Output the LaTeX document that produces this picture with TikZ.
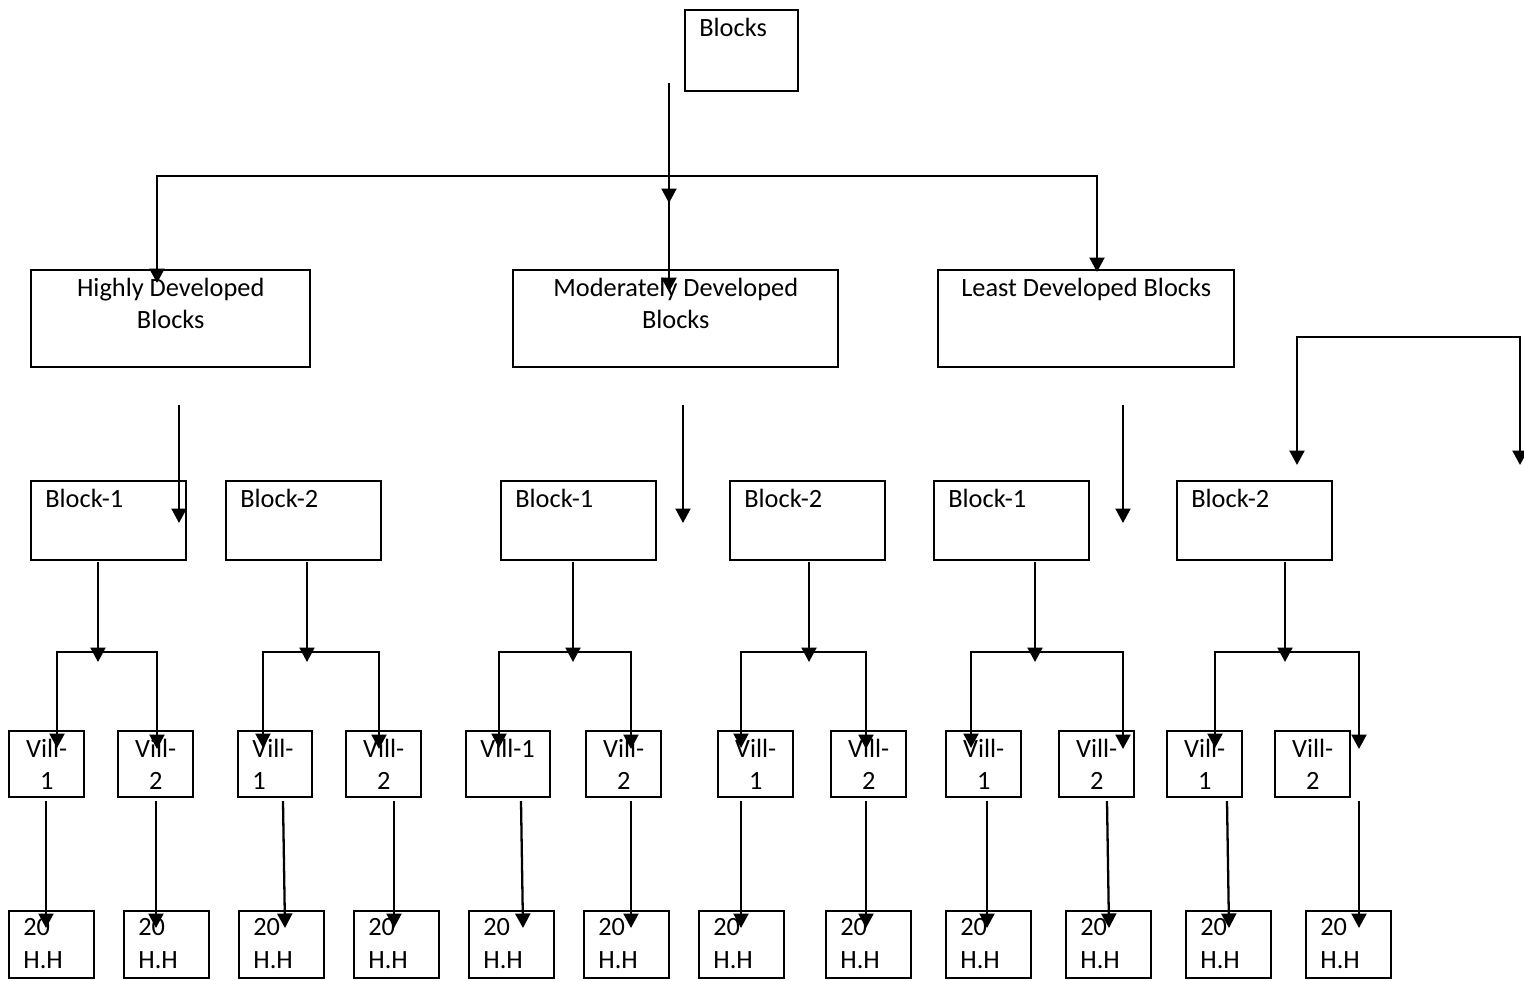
\documentclass[tikz,border=0pt]{standalone}
\usepackage{fontspec}
\setmainfont{Carlito}
\usetikzlibrary{arrows.meta}
\tikzset{
	box/.style 2 args={draw,line width=1.4pt,anchor=north west,inner sep=0pt,minimum width=#1*0.02cm,minimum height=#2*0.02cm},
	txt/.style={font=\fontsize{15}{18.5}\selectfont,inner sep=0pt},
	tl/.style={label={[txt,align=left,anchor=north west,xshift=0.3cm,yshift=-0.17cm]north west:#1}},
	tc/.style={label={[txt,align=center,anchor=north,yshift=-0.17cm]north:#1}},
	arr/.style={line width=1.3pt,-{Triangle[length=0.29cm,width=0.3cm]}},
	twoarr/.style={line width=1.3pt,{Triangle[length=0.29cm,width=0.3cm]}-{Triangle[length=0.29cm,width=0.3cm]}}
}
\begin{document}
\begin{tikzpicture}[x=0.02cm,y=-0.02cm]
	\useasboundingbox (0,0) rectangle (1524,980);
	\node[box={113}{81},tl=Blocks] (top) at (684,9) {};
	\node[box={279}{97},tc={Highly Developed\\Blocks}] (hd) at (30,269) {};
	\node[box={325}{97},tc={Moderately Developed\\Blocks}] (md) at (512,269) {};
	\node[box={296}{97},tc={Least Developed Blocks}] (ld) at (937,269) {};

	\coordinate (t1) at (669,83);
	\coordinate (t2) at (669,203);
	\coordinate (t3) at (669,118);
	\coordinate (t4) at (669,292);
	\coordinate (hj) at (669,176);
	\coordinate (hdt) at (157,283);
	\coordinate (ldt) at (1097,272);
	\draw[arr] (t1) -- (t2);
	\draw[arr] (t3) -- (t4);
	\draw[twoarr] (hdt) |- (hj) -| (ldt);

	\foreach \n/\x/\t in {b1/30/Block-1,b2/225/Block-2,b3/500/Block-1,b4/729/Block-2,b5/933/Block-1,b6/1176/Block-2}{
		\node[box={155}{79},tl=\t] (\n) at (\x,480) {};
	}
	\foreach \i/\x in {1/179,2/683,3/1123}{
		\coordinate (f\i) at (\x,405);
		\coordinate (g\i) at (\x,523);
		\draw[arr] (f\i) -- (g\i);
	}
	\coordinate (rj) at (1400,337);
	\coordinate (rl) at (1297,465);
	\coordinate (rr) at (1520,465);
	\draw[twoarr] (rl) |- (rj) -| (rr);

	\foreach \i/\c/\l/\r in {1/98/57/157,2/307/263/379,3/573/499/631,4/809/741/866,5/1035/971/1123,6/1285/1215/1359}{
		\coordinate (s\i) at (\c,562);
		\coordinate (e\i) at (\c,662);
		\coordinate (k\i) at (\c,652);
		\coordinate (vl\i) at (\l,748);
		\coordinate (vr\i) at (\r,749);
		\draw[arr] (s\i) -- (e\i);
		\draw[twoarr] (vl\i) |- (k\i) -| (vr\i);
	}

	\foreach \i/\x/\t in {1/8/1,2/117/2,4/345/2,6/585/2,7/717/1,8/830/2,9/945/1,10/1058/2,11/1166/1,12/1274/2}{
		\node[box={75}{66},tc={Vill-\\\t}] (v\i) at (\x,730) {};
	}
	\node[box={74}{66},tl={Vill-\\1}] (v3) at (237,730) {};
	\node[box={84}{66},tl=Vill-1] (v5) at (465,730) {};

	\foreach \i/\x/\a/\b in {1/8/46/46,2/123/156/156,3/238/283/285,4/353/394/394,5/468/521/523,6/583/631/631,7/698/741/741,8/825/866/866,9/945/987/987,10/1065/1107/1109,11/1185/1227/1229,12/1305/1359/1359}{
		\node[box={85}{67},tl={20\\H.H}] (h\i) at (\x,910) {};
		\coordinate (p\i) at (\a,801);
		\coordinate (q\i) at (\b,928);
		\draw[arr] (p\i) -- (q\i);
	}
\end{tikzpicture}
\end{document}
